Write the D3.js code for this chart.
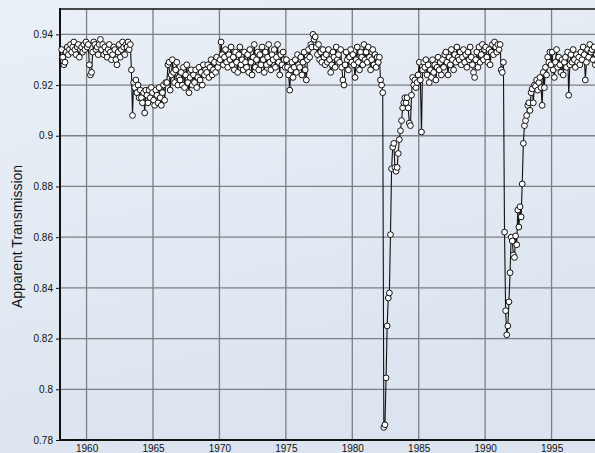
<!DOCTYPE html>
<html>
<head>
<meta charset="utf-8">
<script src="https://cdn.jsdelivr.net/npm/d3@7"></script>
<style>
  html, body { margin: 0; padding: 0; }
  body { width: 595px; height: 453px; overflow: hidden; background: #e4ebf4; }
  svg { display: block; font-family: "Liberation Sans", Arial, sans-serif; }
</style>
</head>
<body>
<svg id="chart" width="595" height="453"></svg>
<script>
// Monthly apparent solar transmission, Mauna Loa, starting February 1958.
const firstYear = 1958;
const firstMonth = 1; // 0 = January
const transmission = [
  /*1958*/ 0.934, 0.931, 0.928, 0.929, 0.933, 0.935, 0.932, 0.934, 0.936, 0.933, 0.935,
  /*1959*/ 0.937, 0.934, 0.932, 0.935, 0.936, 0.931, 0.934, 0.935, 0.933, 0.936, 0.934, 0.937,
  /*1960*/ 0.935, 0.936, 0.928, 0.924, 0.925, 0.933, 0.937, 0.936, 0.934, 0.935, 0.932, 0.936,
  /*1961*/ 0.938, 0.934, 0.936, 0.932, 0.935, 0.933, 0.931, 0.934, 0.936, 0.933, 0.930, 0.932,
  /*1962*/ 0.935, 0.934, 0.930, 0.928, 0.933, 0.936, 0.931, 0.934, 0.937, 0.935, 0.932, 0.936,
  /*1963*/ 0.935, 0.937, 0.934, 0.936, 0.926, 0.908, 0.921, 0.919, 0.922, 0.917, 0.920, 0.915,
  /*1964*/ 0.918, 0.915, 0.913, 0.917, 0.909, 0.918, 0.916, 0.913, 0.918, 0.915, 0.919, 0.917,
  /*1965*/ 0.914, 0.912, 0.918, 0.916, 0.913, 0.919, 0.915, 0.912, 0.917, 0.920, 0.914, 0.921,
  /*1966*/ 0.921, 0.928, 0.929, 0.918, 0.924, 0.930, 0.925, 0.921, 0.926, 0.929, 0.920, 0.923,
  /*1967*/ 0.922, 0.925, 0.920, 0.927, 0.919, 0.924, 0.928, 0.921, 0.917, 0.923, 0.926, 0.920,
  /*1968*/ 0.924, 0.921, 0.926, 0.919, 0.923, 0.927, 0.922, 0.925, 0.920, 0.928, 0.924, 0.926,
  /*1969*/ 0.925, 0.928, 0.923, 0.927, 0.930, 0.924, 0.926, 0.929, 0.925, 0.931, 0.927, 0.929,
  /*1970*/ 0.930, 0.937, 0.932, 0.928, 0.931, 0.934, 0.929, 0.927, 0.932, 0.930, 0.935, 0.928,
  /*1971*/ 0.931, 0.926, 0.933, 0.929, 0.925, 0.932, 0.935, 0.928, 0.930, 0.926, 0.933, 0.929,
  /*1972*/ 0.927, 0.932, 0.925, 0.934, 0.929, 0.924, 0.931, 0.936, 0.927, 0.930, 0.933, 0.926,
  /*1973*/ 0.932, 0.928, 0.935, 0.930, 0.925, 0.933, 0.928, 0.931, 0.936, 0.929, 0.926, 0.932,
  /*1974*/ 0.930, 0.934, 0.927, 0.931, 0.936, 0.929, 0.924, 0.932, 0.928, 0.933, 0.930, 0.927,
  /*1975*/ 0.930, 0.927, 0.924, 0.918, 0.926, 0.929, 0.923, 0.927, 0.930, 0.925, 0.932, 0.928,
  /*1976*/ 0.927, 0.931, 0.924, 0.929, 0.933, 0.926, 0.922, 0.930, 0.934, 0.931, 0.936, 0.935,
  /*1977*/ 0.940, 0.938, 0.939, 0.935, 0.932, 0.936, 0.930, 0.933, 0.929, 0.934, 0.931, 0.928,
  /*1978*/ 0.932, 0.929, 0.934, 0.930, 0.925, 0.928, 0.933, 0.931, 0.927, 0.935, 0.930, 0.932,
  /*1979*/ 0.929, 0.934, 0.927, 0.922, 0.920, 0.928, 0.933, 0.930, 0.926, 0.931, 0.934, 0.929,
  /*1980*/ 0.932, 0.928, 0.923, 0.930, 0.935, 0.929, 0.926, 0.933, 0.931, 0.928, 0.936, 0.930,
  /*1981*/ 0.933, 0.929, 0.935, 0.931, 0.926, 0.930, 0.934, 0.928, 0.932, 0.927, 0.931, 0.929,
  /*1982*/ 0.931, 0.922, 0.920, 0.917, 0.785, 0.786, 0.8045, 0.825, 0.836, 0.838, 0.861, 0.887,
  /*1983*/ 0.8955, 0.897, 0.8875, 0.886, 0.8875, 0.893, 0.8985, 0.902, 0.906, 0.911, 0.913, 0.915,
  /*1984*/ 0.913, 0.915, 0.911, 0.905, 0.904, 0.916, 0.923, 0.920, 0.922, 0.919, 0.921, 0.924,
  /*1985*/ 0.929, 0.922, 0.9015, 0.926, 0.929, 0.927, 0.930, 0.924, 0.928, 0.921, 0.926, 0.923,
  /*1986*/ 0.930, 0.925, 0.928, 0.922, 0.927, 0.931, 0.926, 0.929, 0.924, 0.930, 0.927, 0.932,
  /*1987*/ 0.933, 0.929, 0.924, 0.931, 0.928, 0.934, 0.930, 0.926, 0.932, 0.929, 0.935, 0.931,
  /*1988*/ 0.930, 0.933, 0.928, 0.931, 0.934, 0.929, 0.932, 0.927, 0.933, 0.930, 0.935, 0.931,
  /*1989*/ 0.928, 0.925, 0.923, 0.930, 0.933, 0.927, 0.935, 0.929, 0.932, 0.936, 0.930, 0.934,
  /*1990*/ 0.935, 0.931, 0.929, 0.934, 0.928, 0.933, 0.936, 0.932, 0.937, 0.935, 0.933, 0.936,
  /*1991*/ 0.934, 0.936, 0.926, 0.925, 0.929, 0.862, 0.831, 0.8215, 0.825, 0.8345, 0.846, 0.860,
  /*1992*/ 0.8585, 0.853, 0.852, 0.8605, 0.857, 0.8707, 0.864, 0.872, 0.868, 0.881, 0.897, 0.904,
  /*1993*/ 0.906, 0.908, 0.912, 0.913, 0.910, 0.917, 0.9185, 0.913, 0.920, 0.9195, 0.922, 0.918,
  /*1994*/ 0.921, 0.923, 0.919, 0.912, 0.925, 0.919, 0.927, 0.924, 0.931, 0.929, 0.933, 0.928,
  /*1995*/ 0.933, 0.926, 0.923, 0.929, 0.934, 0.927, 0.931, 0.928, 0.925, 0.930, 0.924, 0.929,
  /*1996*/ 0.931, 0.927, 0.933, 0.916, 0.928, 0.932, 0.929, 0.934, 0.930, 0.927, 0.932, 0.929,
  /*1997*/ 0.931, 0.928, 0.933, 0.930, 0.935, 0.932, 0.922, 0.929, 0.934, 0.931, 0.936, 0.933,
  /*1998*/ 0.934, 0.930, 0.935, 0.928, 0.932, 0.929, 0.931, 0.927, 0.933, 0.930, 0.932, 0.929
];
const yearTicks = [1960, 1965, 1970, 1975, 1980, 1985, 1990, 1995];
const transmissionTicks = [0.78, 0.80, 0.82, 0.84, 0.86, 0.88, 0.90, 0.92, 0.94];
const yLabel = "Apparent Transmission";

const points = transmission.map((v, i) => ({
  t: firstYear + (firstMonth + i + 0.5) / 12,
  v
}));

const svg = d3.select("#chart");
const W = 595, H = 453;
const plot = { left: 60, top: 9, right: 618, bottom: 440 };

// soft blue-grey backdrop
const defs = svg.append("defs");
const grad = defs.append("linearGradient").attr("id", "bg")
  .attr("x1", 0).attr("y1", 0).attr("x2", 0.3).attr("y2", 1);
grad.append("stop").attr("offset", "0%").attr("stop-color", "#eaf0f7");
grad.append("stop").attr("offset", "100%").attr("stop-color", "#dbe4ef");
svg.append("rect").attr("width", W).attr("height", H).attr("fill", "url(#bg)");

const x = d3.scaleLinear().domain([1958, 2000]).range([plot.left, plot.right]);
const y = d3.scaleLinear().domain([0.78, 0.95]).range([plot.bottom, plot.top]);

// grid
const grid = svg.append("g");
grid.selectAll("line.v").data(yearTicks).join("line")
  .attr("x1", d => x(d)).attr("x2", d => x(d))
  .attr("y1", plot.top).attr("y2", plot.bottom)
  .attr("stroke", "#7c7f84").attr("stroke-width", 1.3);
grid.selectAll("line.h").data(transmissionTicks).join("line")
  .attr("x1", plot.left).attr("x2", W)
  .attr("y1", d => y(d)).attr("y2", d => y(d))
  .attr("stroke", "#7c7f84").attr("stroke-width", 1.3);

// axes
const fmtY = d => String(+d.toFixed(2));
const yAxis = svg.append("g").attr("transform", `translate(${plot.left},0)`)
  .call(d3.axisLeft(y).tickValues(transmissionTicks).tickFormat(fmtY).tickSize(4).tickPadding(3));
const xAxis = svg.append("g").attr("transform", `translate(0,${plot.bottom})`)
  .call(d3.axisBottom(x).tickValues(yearTicks).tickFormat(d3.format("d")).tickSize(0).tickPadding(5));
[yAxis, xAxis].forEach(a => {
  a.select(".domain").remove();
  a.selectAll("text").attr("font-size", 10).attr("fill", "#111")
    .attr("font-family", "'Liberation Sans', Arial, sans-serif");
  a.selectAll("line").attr("stroke", "#111");
});

// frame
svg.append("line").attr("x1", plot.left).attr("x2", plot.left)
  .attr("y1", plot.top - 1).attr("y2", plot.bottom + 1)
  .attr("stroke", "#111").attr("stroke-width", 2);
svg.append("line").attr("x1", plot.left - 1).attr("x2", W)
  .attr("y1", plot.bottom).attr("y2", plot.bottom)
  .attr("stroke", "#111").attr("stroke-width", 2);
svg.append("line").attr("x1", plot.left - 1).attr("x2", W)
  .attr("y1", plot.top).attr("y2", plot.top)
  .attr("stroke", "#111").attr("stroke-width", 1.6);

// y label
svg.append("text")
  .attr("transform", `translate(22,${(plot.top + plot.bottom) / 2 + 12}) rotate(-90)`)
  .attr("text-anchor", "middle")
  .attr("font-size", 14).attr("fill", "#111")
  .text(yLabel);

// series
const line = d3.line().x(d => x(d.t)).y(d => y(d.v));
svg.append("path").datum(points)
  .attr("d", line).attr("fill", "none")
  .attr("stroke", "#111").attr("stroke-width", 1.1);
svg.append("g").selectAll("circle").data(points).join("circle")
  .attr("cx", d => x(d.t)).attr("cy", d => y(d.v)).attr("r", 2.9)
  .attr("fill", "#fff").attr("stroke", "#111").attr("stroke-width", 1);
</script>
</body>
</html>
